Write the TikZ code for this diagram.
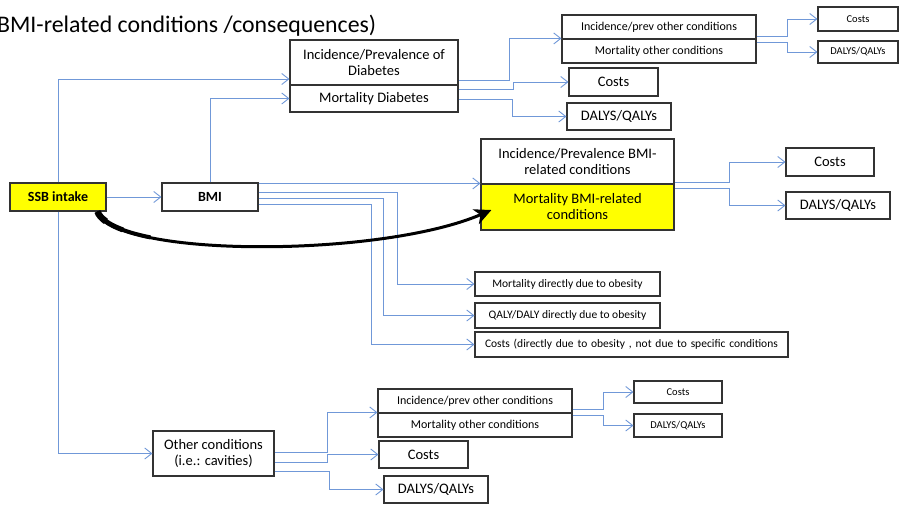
\documentclass[tikz,border=0pt]{standalone}
\usepackage{fontspec}
\setmainfont{Carlito}
\usetikzlibrary{arrows.meta,calc}
\definecolor{lineblue}{HTML}{7098D8}
\definecolor{boxc}{HTML}{333333}
\definecolor{ssbyellow}{HTML}{FFFF00}
\begin{document}
\begin{tikzpicture}[x=1pt,y=-1pt,
  box/.style={draw=boxc, line width=1.1pt, inner sep=0pt, align=center, fill=white},
  fbig/.style={font=\fontsize{14.5}{16}\selectfont},
  fmid/.style={font=\fontsize{12}{14}\selectfont},
  fsmall/.style={font=\fontsize{10.5}{12}\selectfont},
  fdir/.style={font=\fontsize{11.5}{13}\selectfont},
  yel/.style={fill=ssbyellow},
  conn/.style={draw=lineblue, line width=0.9pt, -{Straight Barb[length=7pt,width=11pt,line width=0.9pt]}},
  curvy/.style={draw=black, line width=3pt, -{Stealth[length=17pt,width=16pt,inset=5pt]}},
  curvytail/.style={draw=black, line cap=butt}
]
\useasboundingbox (0,0) rectangle (899,506);

% title (partly cut at left, as in the reference)
\node[anchor=base west, inner sep=0pt, font=\fontsize{23.8}{28}\selectfont] (title) at (-3,32) {BMI-related conditions /consequences)};

% ---------- nodes ----------
\node[box,fmid,minimum width=194pt,minimum height=24pt] (topInc) at (659,27) {Incidence/prev other conditions};
\node[box,fmid,minimum width=194pt,minimum height=24pt] (topMort) at (659,51) {Mortality other conditions};
\node[box,fsmall,minimum width=80pt,minimum height=24pt] (topCosts) at (858,19) {Costs};
\node[box,fsmall,minimum width=80pt,minimum height=22pt] (topDaly) at (858,52) {DALYS/QALYs};

\node[box,fbig,minimum width=168pt,minimum height=45pt] (diabInc) at (374,62.5) {Incidence/Prevalence of\\Diabetes};
\node[box,fbig,minimum width=168pt,minimum height=27pt] (diabMort) at (374,98.5) {Mortality Diabetes};
\node[box,fbig,minimum width=89pt,minimum height=28pt] (dCosts) at (613.5,82) {Costs};
\node[box,fbig,minimum width=104pt,minimum height=27pt] (dDaly) at (619,116.5) {DALYS/QALYs};

\node[box,yel,font=\fontsize{14}{16}\selectfont\bfseries,minimum width=96pt,minimum height=28pt] (ssb) at (58,197) {SSB intake};
\node[box,font=\fontsize{14}{16}\selectfont\bfseries,minimum width=96pt,minimum height=28pt] (bmi) at (210,197) {BMI};

\node[box,fbig,minimum width=193pt,minimum height=45pt] (bInc) at (577.5,161.5) {Incidence/Prevalence BMI-\\related conditions};
\node[box,yel,fbig,minimum width=193pt,minimum height=46pt] (bMort) at (577.5,207) {Mortality BMI-related\\conditions};
\node[box,fbig,minimum width=88pt,minimum height=28pt] (bCosts) at (830,162) {Costs};
\node[box,fbig,minimum width=104pt,minimum height=27pt] (bDaly) at (838,205.5) {DALYS/QALYs};

\node[box,fdir,minimum width=185pt,minimum height=24pt] (mdir) at (567.5,284) {Mortality directly due to obesity};
\node[box,fdir,minimum width=185pt,minimum height=25pt] (qdir) at (567.5,315.5) {QALY/DALY directly due to obesity};
\node[box,fdir,minimum width=313pt,minimum height=25pt,text width=293pt,inner xsep=10pt,align=left] (cdir) at (631.5,344.5) {Costs (directly due to obesity , not due to specific conditions};

\node[box,fbig,minimum width=121pt,minimum height=45pt] (other) at (213.5,453.5) {Other conditions\\(i.e.: cavities)};
\node[box,fmid,minimum width=194pt,minimum height=24pt] (oInc) at (475,401) {Incidence/prev other conditions};
\node[box,fmid,minimum width=194pt,minimum height=24pt] (oMort) at (475,425) {Mortality other conditions};
\node[box,fsmall,minimum width=88pt,minimum height=22pt] (oCosts2) at (678,392) {Costs};
\node[box,fsmall,minimum width=88pt,minimum height=23pt] (oDaly2) at (678,425.5) {DALYS/QALYs};
\node[box,fbig,minimum width=89pt,minimum height=27pt] (oCosts) at (423.5,454.5) {Costs};
\node[box,fbig,minimum width=104pt,minimum height=27pt] (oDaly) at (436,489.5) {DALYS/QALYs};

% ---------- connectors ----------
\path[conn] (ssb.east) -- (bmi.west);
\path[conn] (ssb.north) |- (diabInc.west |- 0,79);
\path[conn] (ssb.south) |- (other.west);
\path[conn] (bmi.north) |- (diabMort.west);

\path[conn] (bmi.east |- bMort.north west) -- (bMort.north west);
\path[conn] (bmi.east |- 0,192) -- (397,192) |- (mdir.west);
\path[conn] (bmi.east |- 0,198) -- (383,198) |- (qdir.west);
\path[conn] (bmi.east |- 0,204) -- (371,204) |- (cdir.west);

\path[conn] (bInc.east |- 0,182) -- (729,182) |- (bCosts.west);
\path[conn] (bMort.east |- 0,188) -- (729,188) |- (bDaly.west);

\path[conn] (diabInc.east |- 0,80) -- (509,80) |- (topMort.north west);
\path[conn] (diabMort.east |- 0,89) -- (513,89) |- (dCosts.west);
\path[conn] (diabMort.east |- 0,99) -- (512,99) |- (dDaly.west);

\path[conn] (topInc.east |- 0,36) -- (787,36) |- (topCosts.west);
\path[conn] (topMort.east |- 0,42) -- (787,42) |- (topDaly.west);

\path[conn] (other.east |- 0,452) -- (327,452) |- (oMort.north west);
\path[conn] (other.east |- 0,462) -- (327,462) |- (oCosts.west);
\path[conn] (other.east |- 0,471) -- (329,471) |- (oDaly.west);

\path[conn] (oInc.east |- 0,409) -- (603,409) |- (oCosts2.west);
\path[conn] (oMort.east |- 0,415) -- (603,415) |- (oDaly2.west);

% big curved arrow (tapered thick tail at the SSB box)
\coordinate (cstart) at ($(ssb.south east)+(-9,0)$);
\coordinate (cend) at ($(bMort.west)+(11,3)$);
\path[curvy] (cstart) .. controls (115,258) and (380,258) .. (cend);
\path[curvytail, line width=4pt] (cstart) .. controls (101.5,222.75) and (121.44,231.57) .. (150.57,237.42);
\path[curvytail, line width=5pt] (cstart) .. controls (99.88,218.52) and (109.08,224.83) .. (122.97,229.94);
\path[curvytail, line width=6.5pt] (cstart) .. controls (98.44,214.76) and (101.46,218.22) .. (105.85,221.38);
\end{tikzpicture}
\end{document}
